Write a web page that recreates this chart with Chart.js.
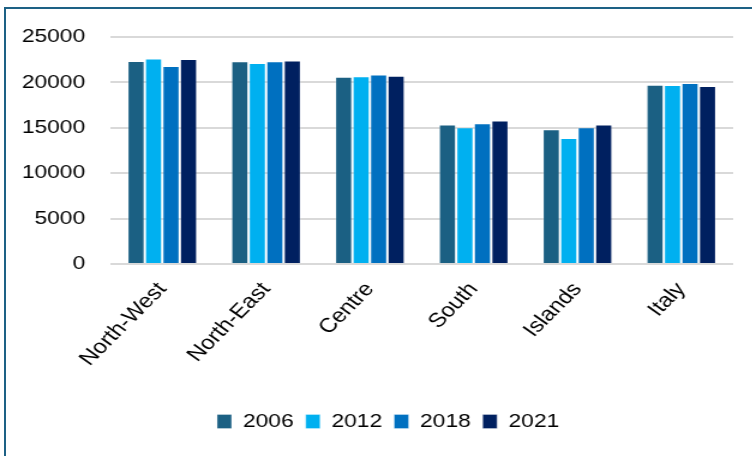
<!DOCTYPE html>
<html lang="en">
<head>
<meta charset="UTF-8">
<title>Regions by year</title>
<script src="https://cdn.jsdelivr.net/npm/chart.js"></script>
<style>
  html, body { margin: 0; padding: 0; background: #fff; overflow: hidden; }
  /* dark frame line along the top and left edges */
  .frame { position: absolute; left: 4px; top: 7px; width: 800px; height: 500px;
           border-top: 2px solid #1d6185; border-left: 2px solid #1d6185; }
  /* chart is laid out narrower and widened so the lettering comes out broad */
  .wrap { position: absolute; left: 0; top: 0; width: 627px; height: 456px;
          transform: scaleX(1.2); transform-origin: 0 0; }
</style>
</head>
<body>
<div class="frame"></div>
<div class="wrap"><canvas id="regionChart"></canvas></div>

<script>
  const regions = ['North-West', 'North-East', 'Centre', 'South', 'Islands', 'Italy'];
  const years = ['2006', '2012', '2018', '2021'];
  const values2006 = [22360, 22320, 20610, 15370, 14840, 19750];
  const values2012 = [22620, 22130, 20680, 15070, 13870, 19720];
  const values2018 = [21800, 22320, 20870, 15510, 15070, 19940];
  const values2021 = [22580, 22400, 20720, 15810, 15370, 19610];
  const yMax = 25000;
  const yStep = 5000;

  const colors = ['#1b6083', '#00b0f0', '#0070c0', '#002060'];
  const series = [values2006, values2012, values2018, values2021];
  const font = { family: '"Liberation Sans", Arial, sans-serif', size: 19 };

  // nudge the legend a little right of the canvas centre
  const legendShift = {
    id: 'legendShift',
    afterLayout(chart) {
      const lg = chart.legend;
      if (!lg) return;
      lg.left += 18;
      lg.right += 18;
    }
  };

  const ctx = document.getElementById('regionChart').getContext('2d');
  new Chart(ctx, {
    type: 'bar',
    data: {
      labels: regions,
      datasets: years.map((y, i) => ({
        label: y,
        data: series[i],
        backgroundColor: colors[i],
        borderColor: 'rgba(255,255,255,0.3)',
        borderWidth: 1,
        categoryPercentage: 0.674,
        barPercentage: 1
      }))
    },
    options: {
      responsive: true,
      maintainAspectRatio: false,
      animation: false,
      layout: { padding: { top: 37, right: 16, bottom: 15, left: 0 } },
      plugins: {
        tooltip: { enabled: false },
        legend: {
          position: 'bottom',
          labels: {
            font: font,
            color: '#000',
            boxWidth: 12,
            boxHeight: 14,
            padding: 10
          }
        }
      },
      scales: {
        x: {
          grid: { display: false, drawTicks: false },
          border: { display: false },
          ticks: {
            font: { family: font.family, size: 20 },
            color: '#000',
            minRotation: 50,
            maxRotation: 50,
            padding: 14
          },
          afterFit: (scale) => { scale.height = 138; }
        },
        y: {
          min: 0,
          max: yMax,
          ticks: {
            stepSize: yStep,
            font: font,
            color: '#000',
            padding: 21,
            callback: (v) => String(v)
          },
          grid: { color: '#d9d9d9', lineWidth: 2, drawTicks: false },
          border: { display: false },
          afterFit: (scale) => { scale.width = 92; }
        }
      }
    },
    plugins: [legendShift]
  });
</script>
</body>
</html>
